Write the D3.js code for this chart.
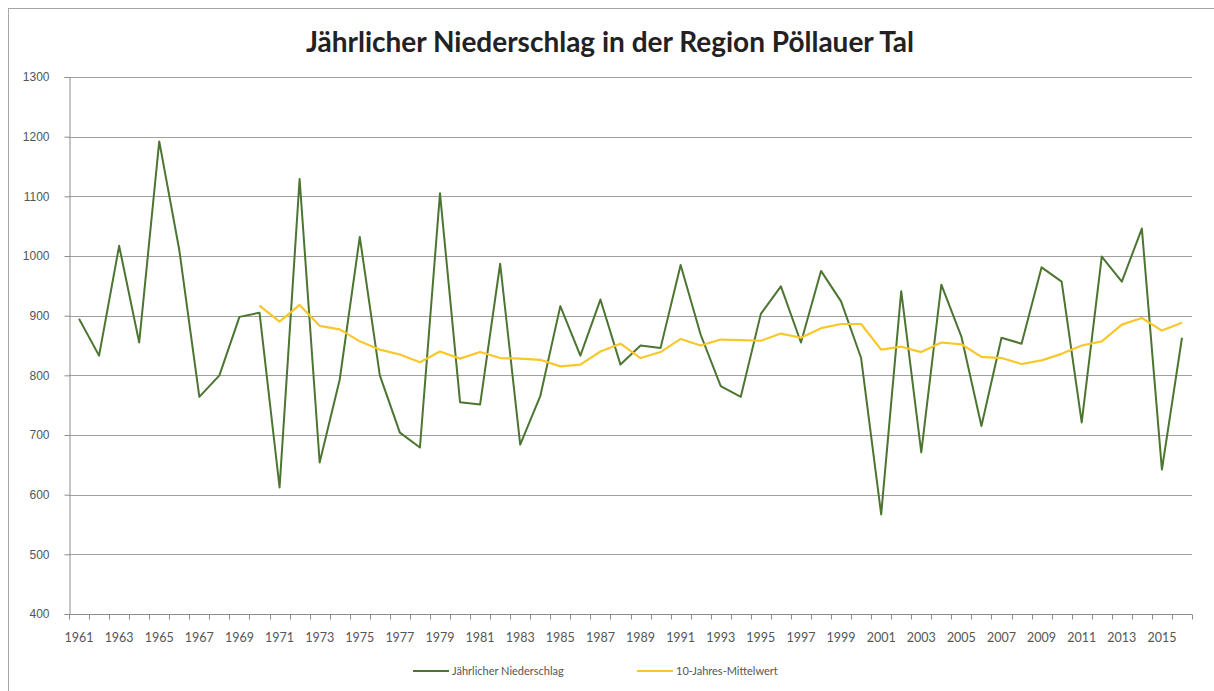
<!DOCTYPE html>
<html>
<head>
<meta charset="utf-8">
<script src="https://cdn.jsdelivr.net/npm/d3@7"></script>
<style>
  body { margin: 0; background: #fff; }
  svg { display: block; font-family: Lato, "Open Sans", sans-serif; }
</style>
</head>
<body>
<svg id="chart" width="1214" height="691"></svg>
<script>
'use strict';

const years = d3.range(1961, 2017);

const niederschlag = [
  895, 833, 1017, 855, 1192, 1010, 764, 800, 898, 905,
  612, 1129, 654, 793, 1032, 800, 704, 679, 1105, 755,
  751, 987, 684, 765, 916, 833, 927, 818, 850, 846,
  985, 868, 782, 764, 903, 949, 855, 975, 924, 829,
  567, 941, 671, 952, 865, 715, 863, 853, 981, 957,
  721, 999, 957, 1046, 642, 863
];

// moving average starts in 1970
const mittelYears = d3.range(1970, 2017);
const mittelwert = [
  917, 890, 918, 883, 877, 857, 843, 835, 822, 840,
  828, 839, 829, 828, 826, 815, 818, 840, 853, 829,
  839, 861, 850, 860, 859, 858, 870, 863, 879, 886,
  886, 843, 848, 839, 855, 852, 831, 829, 819, 825,
  836, 850, 857, 885, 896, 875, 888
];

const yTicks = d3.range(400, 1301, 100);
const xLabelYears = years.filter(y => (y - 1961) % 2 === 0);

const title = 'Jährlicher Niederschlag in der Region Pöllauer Tal';
const seriesNames = ['Jährlicher Niederschlag', '10-Jahres-Mittelwert'];
const green = '#4b7530';
const yellow = '#f8c72a';

const margin = { left: 69, right: 1192, top: 77, bottom: 614 };

const svg = d3.select('#chart');

// outer chart border
svg.append('rect')
  .attr('x', 8.5).attr('y', 8.5)
  .attr('width', 1220).attr('height', 700)
  .attr('fill', '#fff')
  .attr('stroke', '#a6a6a6')
  .attr('stroke-width', 1);

const x = d3.scaleBand()
  .domain(years)
  .range([margin.left, margin.right]);

const y = d3.scaleLinear()
  .domain([400, 1300])
  .range([margin.bottom, margin.top]);

const cx = yr => x(yr) + x.bandwidth() / 2;

// gridlines
svg.append('g')
  .selectAll('line')
  .data(yTicks.filter(t => t > 400))
  .join('line')
  .attr('x1', margin.left)
  .attr('x2', margin.right)
  .attr('y1', d => Math.round(y(d)) + 0.5)
  .attr('y2', d => Math.round(y(d)) + 0.5)
  .attr('stroke', '#a0a0a0')
  .attr('stroke-width', 1.2);

// y axis
const yAxis = svg.append('g')
  .attr('transform', `translate(${margin.left + 0.5},0)`)
  .call(d3.axisLeft(y).tickValues(yTicks).tickFormat(d3.format('d')).tickSize(5).tickPadding(15));
yAxis.select('.domain').attr('stroke', '#8c8c8c');
yAxis.selectAll('.tick line').attr('stroke', '#8c8c8c');
yAxis.selectAll('.tick text')
  .attr('fill', '#555')
  .style('font-size', '12px');

// x axis: ticks on category boundaries, labels on odd categories
const xAxisG = svg.append('g')
  .attr('transform', `translate(0,${Math.round(margin.bottom) + 0.5})`);
xAxisG.append('line')
  .attr('x1', margin.left).attr('x2', margin.right)
  .attr('stroke', '#8c8c8c');
xAxisG.selectAll('line.tick')
  .data(years.concat([2017]))
  .join('line')
  .attr('class', 'tick')
  .attr('x1', d => Math.round(d === 2017 ? margin.right : x(d)) + 0.5)
  .attr('x2', d => Math.round(d === 2017 ? margin.right : x(d)) + 0.5)
  .attr('y1', 0).attr('y2', 5)
  .attr('stroke', '#8c8c8c');
xAxisG.selectAll('text')
  .data(xLabelYears)
  .join('text')
  .attr('x', d => cx(d))
  .attr('y', 27)
  .attr('text-anchor', 'middle')
  .attr('fill', '#555')
  .style('font-size', '12.5px')
  .text(d => d);

const line = d3.line()
  .x(d => cx(d[0]))
  .y(d => y(d[1]));

svg.append('path')
  .datum(years.map((yr, i) => [yr, niederschlag[i]]))
  .attr('d', line)
  .attr('fill', 'none')
  .attr('stroke', green)
  .attr('stroke-width', 2)
  .attr('stroke-linejoin', 'round');

svg.append('path')
  .datum(mittelYears.map((yr, i) => [yr, mittelwert[i]]))
  .attr('d', line)
  .attr('fill', 'none')
  .attr('stroke', yellow)
  .attr('stroke-width', 2.2)
  .attr('stroke-linejoin', 'round');

// title
svg.append('text')
  .attr('x', 610)
  .attr('y', 52)
  .attr('text-anchor', 'middle')
  .attr('fill', '#222')
  .style('font-size', '28px')
  .style('font-weight', 'bold')
  .text(title);

// legend
const legend = svg.append('g').attr('transform', 'translate(0,671)');
const legendX = [413, 637];
const legendColors = [green, yellow];
seriesNames.forEach((name, i) => {
  legend.append('line')
    .attr('x1', legendX[i]).attr('x2', legendX[i] + 36)
    .attr('y1', 0).attr('y2', 0)
    .attr('stroke', legendColors[i])
    .attr('stroke-width', 2);
  legend.append('text')
    .attr('x', legendX[i] + 39)
    .attr('y', 4)
    .attr('fill', '#555')
    .style('font-size', '11px')
    .text(name);
});
</script>
</body>
</html>
